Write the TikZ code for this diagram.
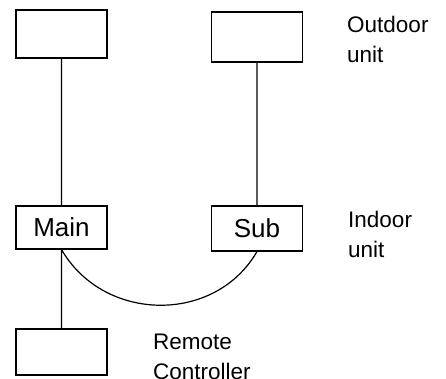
\documentclass[tikz,border=0pt]{standalone}
\usepackage{fontspec}
\setmainfont{Liberation Sans}
\usetikzlibrary{positioning}

\begin{document}
\begin{tikzpicture}[x=1pt,y=1pt]
      \tikzset{
        box/.style={draw, line width=1.1pt, minimum width=91pt, minimum height=46pt, inner sep=0pt,
          font=\fontsize{26}{30}\selectfont},
        note/.style={anchor=north west, align=left, inner sep=0pt,
          font=\fontsize{22.5}{29.5}\selectfont},
        wire/.style={line width=1.2pt},
      }
      \useasboundingbox (0,0) rectangle (446,-379);

      \node[box, minimum height=48pt] (odu1) at (61.5,-34) {};
      \node[box, minimum height=50pt, node distance=195.5pt, right of=odu1, yshift=-3pt] (odu2) {};
      \node[box, minimum height=43pt, node distance=193.5pt, below of=odu1] (main) {Main};
      \node[box, minimum height=45pt, node distance=195.5pt, right of=main, yshift=-1pt] (sub) {Sub};
      \node[box, node distance=124.5pt, below of=main] (rc) {};

      \node[note] (odulbl) at (347,-16) {Outdoor\\unit};
      \node[note] (idulbl) at (348,-211) {Indoor\\unit};
      \node[note] (rclbl) at (153,-334) {Remote\\Controller};

      \draw[wire]
        (odu1) -- (main)
        (odu2) -- (sub)
        (main) -- (rc)
        (main.south) to[out=-60, in=-120, looseness=1.1] (sub.south);
\end{tikzpicture}
\end{document}
